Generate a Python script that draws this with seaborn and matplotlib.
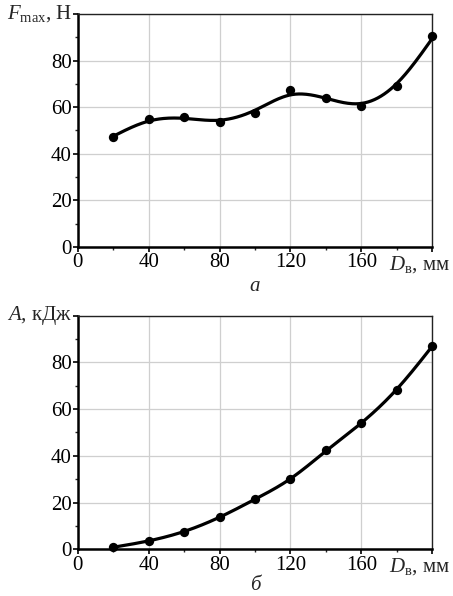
"""Две панели: F_max(D_в) и A(D_в) со сглаживающими кривыми."""
import matplotlib
matplotlib.use("Agg")
import matplotlib.pyplot as plt
from matplotlib.ticker import MultipleLocator, FixedLocator, FixedFormatter
import numpy as np
import pandas as pd
import seaborn as sns

# данные
D_V = [20, 40, 60, 80, 100, 120, 140, 160, 180, 200]
F_MAX = [47.0, 54.9, 55.6, 53.5, 57.5, 67.5, 64.0, 60.5, 69.2, 90.4]
A_KDJ = [0.9, 3.6, 7.6, 13.7, 21.6, 29.9, 42.3, 54.0, 68.3, 87.0]

X_LABELS = ["0", "40", "80", "120", "160", ""]
Y_LABELS = ["0", "20", "40", "60", "80", ""]

LAM_F = 600  # параметр сглаживания для F_max
LAM_A = 200  # для A

sns.set_theme(style="white")
plt.rcParams["font.family"] = ["Liberation Serif", "DejaVu Serif"]
plt.rcParams["mathtext.fontset"] = "custom"
plt.rcParams["mathtext.rm"] = "Liberation Serif"
plt.rcParams["mathtext.it"] = "Liberation Serif:italic"

FS = 15


def smooth_spline(x, y, lam, grid):
    """Кубический сглаживающий сплайн (Reinsch), естественные граничные условия."""
    x = np.asarray(x, float)
    y = np.asarray(y, float)
    n = len(x)
    h = np.diff(x)
    Q = np.zeros((n, n - 2))
    R = np.zeros((n - 2, n - 2))
    for j in range(1, n - 1):
        Q[j - 1, j - 1] = 1 / h[j - 1]
        Q[j, j - 1] = -1 / h[j - 1] - 1 / h[j]
        Q[j + 1, j - 1] = 1 / h[j]
        R[j - 1, j - 1] = (h[j - 1] + h[j]) / 3
        if j < n - 2:
            R[j - 1, j] = R[j, j - 1] = h[j] / 6
    K = Q @ np.linalg.solve(R, Q.T)
    g = np.linalg.solve(np.eye(n) + lam * K, y)
    gam = np.concatenate([[0], np.linalg.solve(R, Q.T @ g), [0]])
    i = np.clip(np.searchsorted(x, grid) - 1, 0, n - 2)
    a = grid - x[i]
    b = x[i + 1] - grid
    hh = h[i]
    return ((a * g[i + 1] + b * g[i]) / hh
            - a * b / 6 * ((1 + a / hh) * gam[i + 1] + (1 + b / hh) * gam[i]))


def style_axes(ax, ylabel, caption, cap_y):
    ax.set_xlim(0, 200)
    ax.set_ylim(0, 100)
    ax.xaxis.set_major_locator(FixedLocator([0, 40, 80, 120, 160, 200]))
    ax.xaxis.set_major_formatter(FixedFormatter(X_LABELS))
    ax.xaxis.set_minor_locator(MultipleLocator(20))
    ax.yaxis.set_major_locator(FixedLocator([0, 20, 40, 60, 80, 100]))
    ax.yaxis.set_major_formatter(FixedFormatter(Y_LABELS))
    ax.yaxis.set_minor_locator(MultipleLocator(10))
    ax.tick_params(which="major", direction="out", length=3.5, width=1.2,
                   labelsize=FS, pad=1, colors="black", bottom=True, left=True)
    ax.tick_params(which="minor", direction="out", length=2.5, width=1.0,
                   bottom=True, left=True)
    ax.grid(True, which="major", color="#cfcfcf", lw=0.9)
    for s in ["left", "bottom"]:
        ax.spines[s].set_linewidth(1.8)
        ax.spines[s].set_color("black")
    for s in ["top", "right"]:
        ax.spines[s].set_linewidth(1.0)
        ax.spines[s].set_color("#222222")
    ax.set_xlabel("")
    ax.set_ylabel("")
    ax.text(-0.015, 1.0, ylabel, transform=ax.transAxes, ha="right",
            va="center", fontsize=FS)
    ax.text(1.05, -0.075, r"$D_{\mathrm{в}}$, мм", transform=ax.transAxes,
            ha="right", va="center", fontsize=FS)
    ax.text(0.5, cap_y, caption, transform=ax.transAxes, ha="center",
            va="center", fontsize=FS, style="italic")


def draw(ax, y, lam):
    xx = np.linspace(D_V[0], D_V[-1], 300)
    curve = pd.DataFrame({"x": xx, "y": smooth_spline(D_V, y, lam, xx)})
    sns.lineplot(data=curve, x="x", y="y", ax=ax, color="black", lw=2.3)
    df = pd.DataFrame({"x": D_V, "y": y})
    sns.scatterplot(data=df, x="x", y="y", ax=ax, color="black", s=45,
                    edgecolor="black", linewidth=0, zorder=5, clip_on=False)


fig = plt.figure(figsize=(4.53, 5.96), dpi=100)
ax1 = fig.add_axes([0.172, 0.5856, 0.782, 0.391])
ax2 = fig.add_axes([0.172, 0.0784, 0.782, 0.392])

draw(ax1, F_MAX, LAM_F)
style_axes(ax1, r"$F_{\mathrm{max}}$, Н", "а", -0.17)

draw(ax2, A_KDJ, LAM_A)
style_axes(ax2, r"$A$, кДж", "б", -0.155)

fig.savefig("out.png", dpi=100)
